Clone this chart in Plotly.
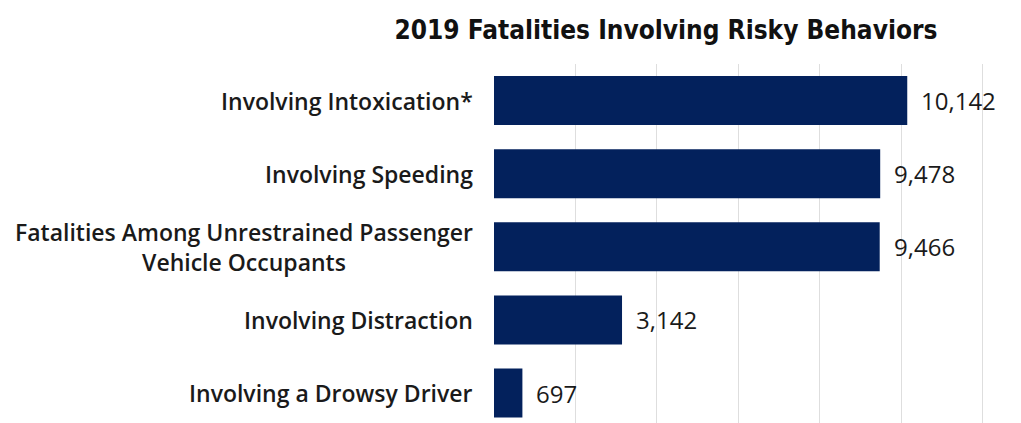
import plotly.graph_objects as go

categories = [
    "Involving Intoxication*",
    "Involving Speeding",
    "Fatalities Among Unrestrained Passenger<br>Vehicle Occupants",
    "Involving Distraction",
    "Involving a Drowsy Driver",
]
values = [10142, 9478, 9466, 3142, 697]
value_labels = ["10,142", "9,478", "9,466", "3,142", "697"]
x_ticks = [0, 2000, 4000, 6000, 8000, 10000, 12000]

BAR = "#03215C"
TXT = "#1a1a1a"
LABEL_FONT = dict(family="Open Sans", size=23, color=TXT, weight=600)

fig = go.Figure(go.Bar(
    y=list(range(len(categories))), x=values, orientation="h",
    marker=dict(color=BAR, line=dict(width=0)),
    hoverinfo="skip",
))

annotations = []
for i, (c, v, t) in enumerate(zip(categories, values, value_labels)):
    annotations.append(dict(
        x=v, y=i, xref="x", yref="y", text=t, showarrow=False,
        xanchor="left", yanchor="middle", xshift=12,
        font=dict(family="Open Sans", size=24, color=TXT, weight=500),
    ))
    annotations.append(dict(
        x=0, y=i, xref="paper", yref="y", text=c, showarrow=False,
        xanchor="right", yanchor="middle", xshift=-19, align="center",
        font=LABEL_FONT,
    ))

fig.update_layout(
    width=1021, height=423,
    margin=dict(l=486, r=44, t=56, b=8),
    paper_bgcolor="white", plot_bgcolor="white",
    bargap=0.33,
    showlegend=False,
    title=dict(
        text="2019 Fatalities Involving Risky Behaviors",
        x=658 / 1021, xanchor="center", xref="container",
        y=1 - 22 / 423, yref="container", yanchor="middle",
        font=dict(family="DejaVu Sans Condensed", size=26, color="#111111", weight="bold"),
    ),
    xaxis=dict(
        range=[0, 12050], tickvals=x_ticks, showticklabels=False,
        showgrid=True, gridcolor="#dedede", gridwidth=1,
        zeroline=False, showline=False, fixedrange=True,
    ),
    yaxis=dict(
        range=[4.41, -0.5], showticklabels=False, showgrid=False,
        zeroline=False, showline=False, fixedrange=True,
    ),
    annotations=annotations,
)

fig.write_html("out.html")
